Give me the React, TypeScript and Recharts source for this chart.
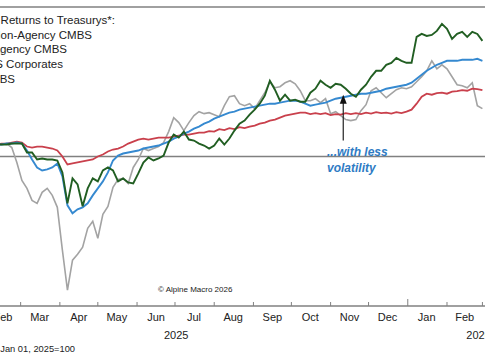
import React from "react";
import {
  LineChart,
  Line,
  XAxis,
  YAxis,
  ReferenceLine,
  ReferenceDot,
} from "recharts";

const FONT = "'Liberation Sans', Arial, sans-serif";

// days since Jan 01, 2025 (sampled every 4 days)
const DAYS = Array.from({ length: 107 }, (_, i) => i * 4);

// index, Jan 01, 2025 = 100
const NON_AGENCY_CMBS = [
  100, 100.05, 100.02, 100.1, 100.14, 100.1, 100.16, 100.2, 100.18, 100.22, 100.24,
  100.24, 100.24, 100.26, 100.26, 100.26, 100.08, 100.08, 99.94, 99.96, 99.94,
  99.94, 99.92, 99.68, 99.06, 99.56, 99.44, 99.0, 99.36, 99.56, 99.5,
  99.72, 99.78, 99.72, 99.5, 99.56, 99.48, 99.46, 99.66, 99.88, 99.98,
  99.92, 99.96, 100.02, 100.28, 100.44, 100.38, 100.5, 100.34, 100.32, 100.26,
  100.22, 100.16, 100.22, 100.36, 100.24, 100.36, 100.52, 100.66, 100.72, 100.84,
  100.94, 101.06, 101.22, 101.52, 101.34, 101.12, 101.24, 101.12, 101.14, 101.1,
  101.1, 101.28, 101.36, 101.52, 101.44, 101.38, 101.46, 101.44, 101.36, 101.26,
  101.2, 101.34, 101.44, 101.6, 101.72, 101.72, 101.84, 101.88, 101.98, 101.92,
  101.88, 101.88, 102.4, 102.46, 102.42, 102.44, 102.52, 102.66, 102.56, 102.36,
  102.46, 102.5, 102.4, 102.5, 102.46, 102.32,
];

const AGENCY_CMBS = [
  100, 100.03, 100.06, 100.08, 100.1, 100.12, 100.15, 100.18, 100.2, 100.22, 100.24,
  100.24, 100.26, 100.26, 100.28, 100.26, 100.12, 99.94, 99.78, 99.72, 99.74,
  99.78, 99.86, 99.6, 99.02, 98.86, 98.94, 98.98, 99.06, 99.22, 99.36,
  99.5, 99.68, 99.92, 100.02, 100.06, 100.08, 100.1, 100.12, 100.16, 100.18,
  100.2, 100.22, 100.26, 100.3, 100.36, 100.4, 100.46, 100.5, 100.56, 100.6,
  100.66, 100.7, 100.76, 100.8, 100.84, 100.88, 100.9, 100.94, 100.96, 100.98,
  101.0, 101.02, 101.04, 101.06, 101.06, 101.08, 101.1, 101.12, 101.12, 101.1,
  101.06, 101.02, 101.04, 101.06, 101.08, 101.12, 101.16, 101.18, 101.2, 101.22,
  101.24, 101.26, 101.26, 101.28, 101.3, 101.32, 101.36, 101.38, 101.4, 101.42,
  101.44, 101.48, 101.56, 101.64, 101.72, 101.78, 101.84, 101.88, 101.92, 101.92,
  101.92, 101.94, 101.94, 101.94, 101.96, 101.92,
];

const US_CORPORATES = [
  100, 100.06, 99.98, 100.1, 100.16, 100.08, 100.2, 100.14, 100.24, 100.2, 100.26,
  100.24, 100.26, 100.18, 99.88, 99.52, 99.36, 99.12, 99.06, 99.28, 99.36,
  99.22, 98.98, 98.12, 97.32, 97.92, 98.04, 98.18, 98.56, 98.7, 98.36,
  98.84, 99.0, 99.38, 99.54, 99.56, 99.46, 99.78, 99.94, 100.16, 100.12,
  100.16, 100.2, 100.28, 100.5, 100.78, 100.68, 100.52, 100.68, 100.82, 100.9,
  100.86, 100.88, 100.84, 100.8, 101.02, 101.2, 101.22, 101.06, 101.02, 101.06,
  100.96, 101.12, 101.28, 101.5, 101.38, 101.4, 101.48, 101.52, 101.46, 101.32,
  101.12, 101.12, 101.16, 101.08, 101.16, 100.86, 100.9, 100.82, 100.74, 100.72,
  100.74, 100.92, 101.04, 101.32, 101.38, 101.28, 101.18, 101.26, 101.34, 101.38,
  101.36, 101.4, 101.5, 101.6, 101.72, 101.92, 101.76, 101.84, 101.76, 101.6,
  101.44, 101.42, 101.38, 101.48, 101.02, 100.96,
];

const RMBS = [
  100, 100.04, 100.08, 100.06, 100.12, 100.14, 100.12, 100.18, 100.2, 100.22, 100.24,
  100.26, 100.26, 100.28, 100.3, 100.28, 100.2, 100.18, 100.2, 100.2, 100.18,
  100.16, 100.12, 100.0, 99.84, 99.86, 99.88, 99.9, 99.92, 99.94, 100.0,
  100.04, 100.1, 100.14, 100.16, 100.2, 100.26, 100.3, 100.34, 100.36, 100.34,
  100.36, 100.38, 100.38, 100.38, 100.4, 100.42, 100.44, 100.44, 100.46, 100.48,
  100.48, 100.51, 100.5, 100.55, 100.53, 100.57, 100.55, 100.59, 100.57, 100.6,
  100.62, 100.66, 100.68, 100.72, 100.74, 100.78, 100.82, 100.84, 100.86, 100.88,
  100.88, 100.85, 100.87, 100.85, 100.87, 100.83, 100.85, 100.84, 100.87, 100.85,
  100.87, 100.85, 100.88, 100.86, 100.89, 100.87, 100.88, 100.86, 100.89, 100.87,
  100.9, 100.94, 101.06, 101.2, 101.26, 101.24, 101.27, 101.28, 101.26, 101.3,
  101.31, 101.33, 101.32, 101.36, 101.35, 101.33,
];

const MONTH_STARTS = [31, 59, 90, 120, 151, 181, 212, 243, 273, 304, 334, 365, 396, 424];
const YEAR_START = 365;
const MONTH_MIDS = [15, 45, 74, 105, 135, 166, 196, 227, 258, 288, 319, 349, 380, 410];
const MONTH_LABELS = [
  "Jan", "Feb", "Mar", "Apr", "May", "Jun", "Jul",
  "Aug", "Sep", "Oct", "Nov", "Dec", "Jan", "Feb",
];
const YEAR_TICKS = [182, 421];
const YEAR_LABELS = ["2025", "2026"];

const LEGEND_LINES = [
  "Excess Returns to Treasurys*:",
  "Non-Agency CMBS",
  "Agency CMBS",
  "US Corporates",
  "RMBS",
];

const ARROW_DAY = 314;

const data = DAYS.map((day, i) => ({
  day,
  nonAgency: NON_AGENCY_CMBS[i],
  agency: AGENCY_CMBS[i],
  corporates: US_CORPORATES[i],
  rmbs: RMBS[i],
}));

const AXIS_GREY = "#808080";

function ArrowHead(props: any) {
  const { cx, cy } = props;
  return (
    <path
      d={`M${cx},${cy - 5} L${cx - 3.5},${cy + 4} L${cx + 3.5},${cy + 4} Z`}
      fill="#111"
    />
  );
}

export default function App() {
  return (
    <div
      style={{
        position: "absolute",
        left: 0,
        top: 0,
        width: 485,
        height: 360,
        overflow: "hidden",
        background: "#fff",
        fontFamily: FONT,
      }}
    >
      <div style={{ position: "absolute", left: -60, top: 0 }}>
        <LineChart
          width={550}
          height={360}
          data={data}
          margin={{ top: 7, right: 0, left: 6, bottom: 0 }}
        >
          <XAxis
            dataKey="day"
            type="number"
            domain={[0, 430]}
            ticks={MONTH_MIDS}
            interval={0}
            tickFormatter={(v) => MONTH_LABELS[MONTH_MIDS.indexOf(v)]}
            tickLine={false}
            tickSize={5}
            tickMargin={2}
            height={20}
            axisLine={{ stroke: AXIS_GREY, strokeWidth: 1.5 }}
            tick={{ fill: "#222", fontSize: 11, fontFamily: FONT }}
          />
          <XAxis
            xAxisId="year"
            dataKey="day"
            type="number"
            domain={[0, 430]}
            ticks={YEAR_TICKS}
            interval={0}
            tickFormatter={(v) => YEAR_LABELS[YEAR_TICKS.indexOf(v)]}
            tickLine={false}
            tickSize={3}
            tickMargin={2}
            height={34}
            axisLine={false}
            tick={{ fill: "#222", fontSize: 11, fontFamily: FONT }}
          />
          <YAxis hide domain={[97, 103]} />

          <ReferenceLine y={103} stroke={AXIS_GREY} strokeWidth={1.5} />
          <ReferenceLine y={100} stroke={AXIS_GREY} strokeWidth={1.5} />

          {MONTH_STARTS.map((d) => (
            <ReferenceLine
              key={`tick-${d}`}
              segment={[
                { x: d, y: 97 },
                { x: d, y: d === YEAR_START ? 97.14 : 97.08 },
              ]}
              stroke={AXIS_GREY}
              strokeWidth={1}
            />
          ))}

          <Line
            dataKey="corporates"
            stroke="#a3a3a3"
            strokeWidth={1.6}
            dot={false}
            activeDot={false}
            isAnimationActive={false}
          />
          <Line
            dataKey="rmbs"
            stroke="#c9404c"
            strokeWidth={1.8}
            dot={false}
            activeDot={false}
            isAnimationActive={false}
          />
          <Line
            dataKey="agency"
            stroke="#3589d0"
            strokeWidth={1.9}
            dot={false}
            activeDot={false}
            isAnimationActive={false}
          />
          <Line
            dataKey="nonAgency"
            stroke="#215e22"
            strokeWidth={1.9}
            dot={false}
            activeDot={false}
            isAnimationActive={false}
          />

          <ReferenceLine
            segment={[
              { x: ARROW_DAY, y: 100.32 },
              { x: ARROW_DAY, y: 101.1 },
            ]}
            stroke="#222"
            strokeWidth={1.2}
          />
          <ReferenceDot
            x={ARROW_DAY}
            y={101.14}
            r={4}
            shape={ArrowHead}
          />
        </LineChart>
      </div>

      <svg
        width={485}
        height={360}
        style={{ position: "absolute", left: 0, top: 0, pointerEvents: "none" }}
      >
        <g fontFamily={FONT} fontSize={11.5} fill="#222">
          <text x={115} y={24} textAnchor="end">{LEGEND_LINES[0]}</text>
          <text x={92} y={38.5} textAnchor="end">{LEGEND_LINES[1]}</text>
          <text x={67} y={53} textAnchor="end">{LEGEND_LINES[2]}</text>
          <text x={63} y={68} textAnchor="end">{LEGEND_LINES[3]}</text>
          <text x={15} y={82.5} textAnchor="end">{LEGEND_LINES[4]}</text>
        </g>
        <g fontFamily={FONT} fontSize={12} fontWeight="bold" fontStyle="italic" fill="#2e7bc4">
          <text x={327} y={156}>...with less</text>
          <text x={327} y={172}>volatility</text>
        </g>
        <text x={158} y={292} fontFamily={FONT} fontSize={8} fill="#222">
          © Alpine Macro 2026
        </text>
        <text x={75} y={352} textAnchor="end" fontFamily={FONT} fontSize={9.3} fill="#222">
          Jan 01, 2025=100
        </text>
      </svg>
    </div>
  );
}
